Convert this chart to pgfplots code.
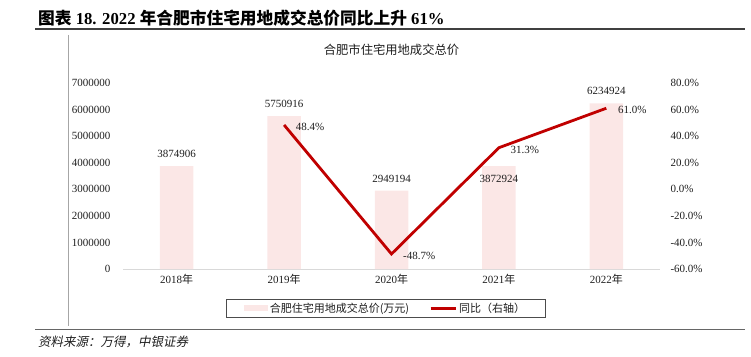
\documentclass[border=0pt]{standalone}
\usepackage{fontspec}
\setmainfont{Liberation Serif}
\newfontfamily\cjk{Noto Sans CJK SC}
\newfontfamily\cjkit[FakeSlant=0.2]{Noto Sans CJK SC}
\usepackage{pgfplots}
\usepackage{pgfplotstable}
\pgfplotsset{compat=1.18}
\definecolor{barpink}{RGB}{251,231,230}
\definecolor{linered}{RGB}{192,0,0}
\definecolor{axisgray}{RGB}{217,217,217}
\definecolor{txt}{RGB}{30,30,30}

\pgfplotstableread{
x y lab dy
0 3874906 3874906 4.7
1 5750916 5750916 4.7
2 2949194 2949194 4.7
3 3872924 3872924 -20.3
4 6234924 6234924 4.7
}\bars

\pgfplotstableread{
x y lab
1 48.4 48.4
2 -48.7 -48.7
3 31.3 31.3
4 61.0 61.0
}\yoy

\begin{document}
\begin{tikzpicture}[x=1pt,y=1pt]
\useasboundingbox (0,0) rectangle (751,356);
% header
\node[anchor=west, inner sep=0pt, font=\fontsize{16.7}{18}\selectfont\bfseries] at (38,338)
  {{\cjk\bfseries 图表} 18. 2022 {\cjk\bfseries 年合肥市住宅用地成交总价同比上升} 61\%};
\draw[black!75, line width=1.3pt] (35,327) -- (745,327);
\draw[black!35, line width=0.5pt] (68,321) -- (68,30);
\node[font=\cjk\fontsize{12.3}{14}\selectfont, text=txt] at (391.5,306) {合肥市住宅用地成交总价};
\draw[black!60, line width=1pt] (35,27) -- (745,27);
\node[anchor=west, inner sep=0pt, font=\cjkit\fontsize{12.5}{14}\selectfont, text=txt] at (38,14) {资料来源：万得，中银证券};

\begin{axis}[
  at={(123pt,87pt)}, anchor=south west,
  scale only axis, width=537pt, height=186pt,
  xmin=-0.5, xmax=4.5, ymin=0, ymax=7000000,
  enlargelimits=false, clip=false,
  axis x line*=bottom, x axis line style={draw=axisgray, line width=0.8pt, -},
  axis y line*=left, y axis line style={draw=none},
  major tick length=0pt, tick style={draw=none},
  xtick={0,1,2,3,4},
  xticklabels={2018{\cjk 年},2019{\cjk 年},2020{\cjk 年},2021{\cjk 年},2022{\cjk 年}},
  xticklabel style={font=\fontsize{11}{13}\selectfont, text=txt, yshift=-2pt},
  ytick={0,1000000,...,7000000},
  scaled y ticks=false,
  yticklabel style={font=\fontsize{11}{13}\selectfont, text=txt, xshift=-9pt,
    /pgf/number format/1000 sep={}, /pgf/number format/fixed},
  /pgf/number format/assume math mode=true,
]
\addplot[ybar, bar width=33.5pt, fill=barpink, draw=none,
  nodes near coords={\pgfplotspointmeta},
  point meta=explicit symbolic,
  visualization depends on={\thisrow{dy}\as\dy},
  every node near coord/.append style={font=\fontsize{11}{13}\selectfont, text=txt, yshift=\dy pt},
] table[x=x, y=y, meta=lab] {\bars};
\end{axis}

\begin{axis}[
  at={(123pt,87pt)}, anchor=south west,
  scale only axis, width=537pt, height=186pt,
  xmin=-0.5, xmax=4.5, ymin=-60, ymax=80,
  enlargelimits=false, clip=false,
  hide x axis,
  axis y line*=right, y axis line style={draw=none},
  major tick length=0pt, tick style={draw=none},
  ytick={-60,-40,...,80},
  yticklabel={\pgfmathprintnumber[fixed,fixed zerofill,precision=1]{\tick}\%},
  yticklabel style={font=\fontsize{11}{13}\selectfont, text=txt, xshift=7pt},
  /pgf/number format/assume math mode=true,
  legend columns=2,
  legend cell align=left,
  legend style={at={(0.489,-0.161)}, anchor=north, draw=black!70, line width=0.6pt,
    font=\cjk\fontsize{11}{13}\selectfont, text=txt, inner xsep=18pt, inner ysep=1.5pt,
    /tikz/every even column/.append style={column sep=18pt}},
]
\addlegendimage{legend image code/.code={\fill[barpink] (0pt,-2.5pt) rectangle (23pt,2.5pt);}}
\addlegendentry{合肥住宅用地成交总价(万元)}
\addplot[linered, line width=2.8pt, mark=none,
  legend image code/.code={\draw[linered, line width=2.8pt] (0pt,0pt) -- (25pt,0pt);},
  nodes near coords={\pgfplotspointmeta\%},
  point meta=explicit symbolic,
  every node near coord/.append style={font=\fontsize{11}{13}\selectfont, text=txt, anchor=west, xshift=7pt, yshift=-2pt},
] table[x=x, y=y, meta=lab] {\yoy};
\addlegendentry{同比（右轴）}
\end{axis}
\end{tikzpicture}
\end{document}
